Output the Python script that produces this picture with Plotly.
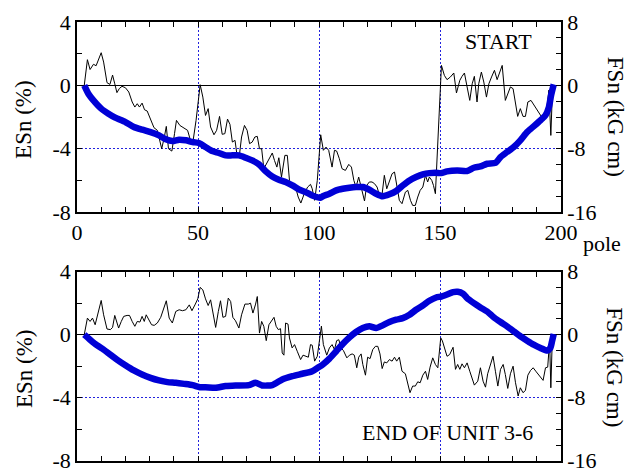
import plotly.graph_objects as go

# ---------------- data ----------------
# START panel: ESn (%) thin black line
start_esn_pole = [3, 4.3, 5.4, 6.8, 7.9, 10, 11, 12.4, 13.6, 14.7,
                  15.6, 16.5, 17.5, 18.6, 20, 21.4, 22.8, 23.9, 24.9, 25.8,
                  26.9, 27.9, 29, 30.4, 31.8, 33.2, 35, 36.1, 36.9, 37.8,
                  39.2, 40.3, 41.1, 42.5, 43.9, 45.7, 47.1, 48, 49.2, 50.9,
                  52, 53.1, 54.2, 55.2, 56.6, 57.7, 58.9, 60, 61.1, 62.2,
                  63.2, 64.2, 65.3, 66.2, 67.2, 68, 69.2, 70.3, 71.3, 72.4,
                  73.5, 74.5, 75.4, 76.3, 77.2, 78.2, 79.6, 80.7, 81.6, 82.6,
                  83.4, 84.5, 85.9, 86.9, 87.8, 88.9, 90, 91.4, 92.5, 93.9,
                  95.3, 96.5, 97.2, 98.2, 99.3, 100.7, 101.8, 102.9, 104, 105.4,
                  106.4, 107.3, 108.4, 109.5, 110.9, 112.3, 113.4, 114.4, 115.3, 116.4,
                  117.4, 118.8, 119.7, 120.8, 121.9, 122.9, 124, 125, 126.1, 127,
                  128, 129.1, 130.2, 131.2, 132.3, 133.2, 134.3, 135.7, 136.7, 137.8,
                  138.7, 139.8, 140.8, 141.8, 142.9, 144, 144.9, 145.6, 146.6, 147.3,
                  148.1, 150.6, 151.8, 152.9, 154.3, 155.7, 156.8, 158.2, 159.1, 160.1,
                  161.2, 162.3, 163.3, 164.2, 165.3, 166, 167.1, 168.1, 169.2, 170.2,
                  171.3, 172.5, 173.6, 174.7, 175.7, 177, 178, 179.1, 180.2, 181.2,
                  182.1, 183.2, 184.3, 185.3, 186.3, 187.6, 188.7, 190.1, 191.8, 192.9,
                  194, 195, 195.8, 196.5]
start_esn = [0, 1.62, 1.0, 1.33, 1.24, 2.06, 1.47, 0.17, 0.06, 0.65,
             0.1, -0.46, -0.2, -0.06, -0.15, -0.42, -1.05, -1.37, -1.16, -1.37,
             -1.12, -1.54, -1.62, -2.1, -2.67, -2.84, -4.0, -3.26, -2.59, -4.0,
             -4.15, -3.05, -2.21, -2.53, -2.67, -2.84, -3.58, -3.47, -2.21, 0.04,
             -0.74, -1.9, -1.47, -2.63, -3.12, -2.84, -1.96, -3.09, -3.05, -2.13,
             -2.46, -3.58, -3.47, -4.5, -4.3, -3.26, -2.53, -2.84, -3.68, -3.58,
             -3.26, -3.22, -4.0, -4.0, -5.26, -4.95, -4.53, -4.27, -4.74, -5.16,
             -4.57, -5.79, -4.42, -4.42, -6.0, -6.21, -6.25, -7.05, -7.43, -6.84,
             -6.42, -6.25, -6.53, -7.26, -6.0, -3.12, -4.1, -3.9, -4.1, -5.16,
             -4.1, -4.15, -4.63, -5.26, -5.37, -4.99, -5.16, -6.0, -6.42, -5.79,
             -6.42, -7.3, -6.32, -6.1, -6.1, -6.2, -6.42, -6.95, -6.84, -5.68,
             -6.53, -6.0, -5.58, -5.47, -6.53, -7.26, -7.47, -6.74, -6.63, -7.26,
             -7.58, -7.58, -7.05, -6.63, -6.42, -5.68, -6.1, -5.79, -6.0, -6.32,
             -6.84, 1.26, 0.63, 0.36, 0.53, 0.78, -0.48, 0.32, 0.57, 0.78,
             -0.1, -0.95, 0.1, 0.57, -1.05, 0.1, 0.84, 0.21, -0.74, 0.1,
             0.53, 0.95, 0.36, 0.84, 1.26, -0.95, -0.53, -0.1, -0.21, -1.05,
             -1.96, -1.47, -1.96, -1.96, -1.05, -0.95, -1.2, -1.58, -1.96, -2.21,
             -1.62, -0.3, -3.16, -0.2]

# START panel: FSn (kG cm) thick blue line
start_fsn_pole = [3, 4.7, 6.8, 10, 13, 15.8, 20, 23.5, 26.9, 30.4,
                  33.9, 36.7, 39.4, 42.2, 45, 47.8, 50.4, 53.1, 55.9, 58.6,
                  61.4, 64.2, 66.9, 69.7, 72.4, 75.2, 77.9, 80.7, 83.4, 86.2,
                  89, 91.7, 94.5, 97.2, 100.6, 101.6, 104.3, 107.1, 109.8, 112.6,
                  115.3, 118.1, 120.8, 123.6, 126.3, 129.1, 131.9, 134.6, 137.4, 140.1,
                  142.9, 145.6, 148.4, 150.5, 152.9, 157.1, 161.2, 164, 166.7, 169.5,
                  172.9, 175, 177.7, 180.5, 183.2, 186, 188.7, 191.5, 193.6, 195,
                  195.9, 197]
start_fsn = [0, -1.06, -1.9, -2.94, -3.58, -4.08, -4.64, -5.26, -5.6, -5.9,
             -6.32, -6.82, -7.04, -6.86, -6.94, -7.16, -7.28, -7.78, -8.3, -8.54,
             -8.84, -8.84, -8.84, -9.14, -9.48, -9.98, -10.82, -11.5, -11.92, -12.2,
             -12.64, -13.14, -13.48, -13.9, -14.18, -14.0, -13.68, -13.26, -13.06, -12.92,
             -12.84, -12.84, -13.18, -13.68, -14.0, -13.76, -13.34, -12.64, -12.0, -11.58,
             -11.24, -11.08, -11.04, -11.08, -10.86, -10.74, -10.82, -10.4, -10.24, -9.9,
             -9.8, -9.06, -8.42, -7.78, -6.94, -5.9, -5.18, -4.42, -3.78, -2.74,
             -1.26, 0.12]

# END OF UNIT 3-6 panel: ESn (%) thin black line
end_esn_pole = [3, 4.3, 5.4, 6.4, 7.5, 8.9, 10, 11, 12.4, 13.8,
                14.7, 15.6, 16.5, 17.2, 18.3, 19.3, 20.7, 21.7, 22.8, 23.9,
                24.9, 26, 26.9, 27.8, 28.6, 29.7, 30.8, 31.9, 33.2, 34.6,
                35.9, 36.9, 38.1, 39.4, 40.8, 42.2, 43.6, 45, 46.4, 47.5,
                48.9, 49.9, 50.9, 52, 53.1, 54.2, 55.2, 56.2, 57.3, 58.4,
                59.3, 60.3, 61.4, 62.5, 63.5, 64.4, 65.5, 66.9, 68, 69.4,
                70.8, 71.7, 72.7, 73.8, 74.5, 75.4, 76.3, 77.2, 78.2, 79.3,
                80.4, 81.4, 82.3, 83.2, 84.1, 84.8, 85.5, 86.2, 87.2, 87.8,
                88.9, 89.9, 91, 92.4, 93.4, 94.5, 95.6, 96.5, 97.2, 98.2,
                99.3, 101.0, 101.8, 103.2, 104.3, 105.4, 106.4, 107.3, 108.2, 109.1,
                110.1, 111.5, 112.6, 113.7, 114.6, 115.6, 116.4, 117.4, 118.1, 119.2,
                120.1, 121.1, 122.2, 123.3, 124.3, 125.2, 126.1, 127, 128, 129.1,
                130.2, 131.2, 132.1, 133.2, 134.3, 135.7, 136.7, 137.6, 138.7, 139.8,
                140.8, 141.8, 142.9, 144, 144.9, 145.9, 147, 148.1, 149.1, 150.3,
                151.0, 151.8, 152.9, 154, 155.4, 156.4, 157.3, 158.2, 159.1, 160.1,
                161.2, 162.3, 163.3, 164.2, 165.6, 166.7, 167.8, 168.8, 169.7, 170.8,
                171.9, 172.9, 173.9, 175, 176.1, 177, 178, 179.1, 180.2, 181.2,
                182.3, 183.2, 184.3, 185.3, 186.3, 187.4, 188.5, 189.8, 191.2, 192.6,
                193.6, 194.5, 195.3, 195.8, 196.4]
end_esn = [0, 1.05, 0.84, 1.05, 0.63, 1.47, 2.17, 1.26, 0.36, 0.32,
           0.46, 1.22, 0.84, 0.42, 0.84, 1.16, 1.22, 1.22, 0.84, 0.53,
           0.84, 0.8, 1.16, 0.84, 1.26, 0.95, 0.63, 0.59, 0.74, 1.1,
           1.68, 2.15, 1.05, 0.74, 1.47, 1.58, 1.52, 1.58, 1.89, 1.52,
           1.94, 2.27, 3.0, 2.84, 2.27, 1.85, 2.21, 1.47, 0.46, 1.47,
           2.15, 1.1, 1.16, 2.32, 2.1, 1.1, 0.88, 0.42, 1.26, 1.94,
           1.94, 2.0, 1.37, 1.94, 2.42, 0.1, 0.84, 0.53, -0.38, 0.63,
           0.84, 1.1, 0.53, 0.32, 0.38, -1.16, -1.3, 0.74, 0.67, -0.21,
           -0.84, -0.63, -1.05, -1.58, -1.3, -1.37, -1.43, -0.63, -0.67, -1.68,
           -1.37, 0.54, -0.63, -1.3, -0.84, -0.63, -0.95, -0.38, -0.32, -0.84,
           -1.01, -1.47, -1.3, -1.22, -1.3, -2.1, -1.43, -1.22, -1.89, -2.57,
           -1.43, -1.52, -0.95, -0.74, -0.74, -1.22, -2.15, -1.73, -1.79, -1.58,
           -1.68, -1.43, -1.68, -1.43, -2.32, -2.48, -3.12, -3.68, -3.26, -3.26,
           -2.99, -3.05, -2.57, -2.32, -2.84, -2.06, -1.47, -1.89, -2.1, -0.2,
           -0.4, -0.84, -1.37, -1.26, -0.8, -2.2, -1.89, -2.2, -1.85, -2.1,
           -1.79, -2.32, -2.74, -3.2, -2.95, -2.1, -2.95, -3.33, -2.48, -1.89,
           -1.37, -2.32, -3.26, -2.2, -1.89, -2.53, -3.41, -2.48, -2.0, -3.05,
           -3.89, -3.37, -3.68, -3.54, -2.57, -2.27, -2.1, -2.36, -2.63, -2.9,
           -2.1, -2.06, -0.4, -3.37, -0.3]

# END OF UNIT 3-6 panel: FSn (kG cm) thick blue line
end_fsn_pole = [3, 5.4, 8.2, 11, 13.75, 16.5, 20, 23.5, 26.9, 30.4,
                33.9, 37.4, 40.8, 44.3, 47.8, 50.8, 53.1, 57.3, 61.4, 65.5,
                71, 73.8, 76.5, 80.7, 84.8, 89, 93.1, 97.2, 99.5, 101.6,
                104.3, 107.1, 109.8, 112.6, 115.3, 118.1, 120.8, 123.6, 126.3, 129.1,
                131.9, 134.6, 137.4, 140.1, 142.9, 145.6, 148.4, 150.5, 152.9, 155.4,
                157.3, 159.5, 161.2, 164, 166.7, 169.5, 172.2, 175, 177.7, 180.5,
                183.2, 186, 188.7, 191.5, 194.3, 195.6, 196.3, 197]
end_fsn = [0, -0.64, -1.34, -1.9, -2.52, -3.16, -3.88, -4.54, -5.06, -5.48,
           -5.8, -6.02, -6.1, -6.24, -6.4, -6.66, -6.66, -6.74, -6.52, -6.44,
           -6.4, -6.1, -6.44, -6.4, -5.68, -5.26, -4.96, -4.64, -4.2, -3.78,
           -3.04, -2.1, -1.18, -0.34, 0.34, 0.84, 1.06, 0.84, 1.18, 1.6,
           1.9, 2.1, 2.52, 3.16, 3.7, 4.3, 4.72, 4.84, 5.1, 5.4,
           5.44, 5.2, 4.64, 4.0, 3.46, 2.94, 2.2, 1.6, 1.06, 0.42,
           -0.2, -0.76, -1.26, -1.68, -2.02, -1.68, -0.84, 0.08]

x_tickvals = [0, 50, 100, 150, 200]
x_ticktext = ["0", "50", "100", "150", "200"]
esn_tickvals = [-8, -4, 0, 4]
esn_ticktext = ["-8", "-4", "0", "4"]
fsn_tickvals = [-16, -8, 0, 8]
fsn_ticktext = ["-16", "-8", "0", "8"]

# ---------------- figure ----------------
FONT = "Liberation Serif, Times New Roman, serif"
BLUE = "#0000d6"
GRID = "#2222dd"

fig = go.Figure()
fig.add_trace(go.Scatter(x=start_esn_pole, y=start_esn, mode="lines",
                         line=dict(color="black", width=1), xaxis="x", yaxis="y"))
fig.add_trace(go.Scatter(x=start_fsn_pole, y=start_fsn, mode="lines",
                         line=dict(color=BLUE, width=6.5, shape="spline", smoothing=0.6),
                         xaxis="x", yaxis="y2"))
fig.add_trace(go.Scatter(x=end_esn_pole, y=end_esn, mode="lines",
                         line=dict(color="black", width=1), xaxis="x2", yaxis="y3"))
fig.add_trace(go.Scatter(x=end_fsn_pole, y=end_fsn, mode="lines",
                         line=dict(color=BLUE, width=6.5, shape="spline", smoothing=0.6),
                         xaxis="x2", yaxis="y4"))
# empty helpers so the top-side tick axes get drawn
fig.add_trace(go.Scatter(x=[], y=[], xaxis="x3", yaxis="y", hoverinfo="skip"))
fig.add_trace(go.Scatter(x=[], y=[], xaxis="x4", yaxis="y3", hoverinfo="skip"))

tickfont = dict(family=FONT, size=22, color="black")
GRIDDASH = "2px,2px"

def xaxis_cfg(show_labels, anchor):
    return dict(range=[0, 200], anchor=anchor, tickvals=x_tickvals, ticktext=x_ticktext,
                showticklabels=show_labels, ticks="inside", ticklen=5, tickcolor="black",
                minor=dict(dtick=10, tick0=0, ticks="inside", ticklen=5, tickcolor="black"),
                showgrid=True, gridcolor=GRID, griddash=GRIDDASH, gridwidth=1.3,
                showline=True, linecolor="black", linewidth=1.5, mirror=True,
                zeroline=False, tickfont=tickfont, ticklabelstandoff=0)

def xtop_cfg(overlay, anchor):
    return dict(range=[0, 200], overlaying=overlay, anchor=anchor, side="top",
                tickvals=x_tickvals, showticklabels=False,
                ticks="inside", ticklen=5, tickcolor="black",
                minor=dict(dtick=10, tick0=0, ticks="inside", ticklen=5, tickcolor="black"),
                showgrid=False, zeroline=False, showline=False)

def left_cfg(domain, anchor):
    return dict(range=[-8, 4], domain=domain, anchor=anchor,
                tickvals=esn_tickvals, ticktext=esn_ticktext,
                ticks="inside", ticklen=5, tickcolor="black",
                minor=dict(dtick=2, tick0=0, ticks="inside", ticklen=5, tickcolor="black"),
                showgrid=True, gridcolor=GRID, griddash=GRIDDASH, gridwidth=1.3,
                showline=True, linecolor="black", linewidth=1.5,
                zeroline=True, zerolinecolor="black", zerolinewidth=1,
                tickfont=tickfont)

def right_cfg(overlay, anchor):
    return dict(range=[-16, 8], overlaying=overlay, side="right", anchor=anchor,
                tickvals=fsn_tickvals, ticktext=fsn_ticktext,
                ticks="inside", ticklen=5, tickcolor="black",
                minor=dict(dtick=2, tick0=0, ticks="inside", ticklen=5, tickcolor="black"),
                showgrid=False, zeroline=False,
                showline=True, linecolor="black", linewidth=1.5,
                tickfont=tickfont)

# page body adds an 8px offset; margins compensate so the plot sits where the reference has it
fig.update_layout(
    width=634, height=470,
    margin=dict(l=69, r=81, t=14, b=15, autoexpand=False),
    paper_bgcolor="white", plot_bgcolor="white",
    showlegend=False,
    xaxis=xaxis_cfg(True, "y"),
    xaxis2=xaxis_cfg(False, "y3"),
    xaxis3=xtop_cfg("x", "y"),
    xaxis4=xtop_cfg("x2", "y3"),
    yaxis=left_cfg([0.569, 1.0], "x"),
    yaxis2=right_cfg("y", "x"),
    yaxis3=left_cfg([0.005, 0.434], "x2"),
    yaxis4=right_cfg("y3", "x2"),
    font=dict(family=FONT, size=22, color="black"),
)

ann_font = dict(family=FONT, size=22, color="black")
title_font = dict(family=FONT, size=23, color="black")
annotations = [
    dict(text="START", x=174, y=2.75, xref="x", yref="y", showarrow=False,
         xanchor="center", yanchor="middle", font=ann_font),
    dict(text="END OF UNIT 3-6", x=153.3, y=-6.2, xref="x2", yref="y3",
         showarrow=False, xanchor="center", yanchor="middle", font=ann_font),
    dict(text="pole", x=1.085, y=0.497, xref="paper", yref="paper", showarrow=False,
         xanchor="center", yanchor="middle", font=ann_font),
    dict(text="ESn (%)", x=-0.1095, y=0.778, xref="paper", yref="paper", showarrow=False,
         textangle=-90, xanchor="center", yanchor="middle", font=title_font),
    dict(text="ESn (%)", x=-0.1095, y=0.213, xref="paper", yref="paper", showarrow=False,
         textangle=-90, xanchor="center", yanchor="middle", font=title_font),
    dict(text="FSn (kG cm)", x=1.1116, y=0.785, xref="paper", yref="paper", showarrow=False,
         textangle=90, xanchor="center", yanchor="middle", font=title_font),
    dict(text="FSn (kG cm)", x=1.1116, y=0.217, xref="paper", yref="paper", showarrow=False,
         textangle=90, xanchor="center", yanchor="middle", font=title_font),
]
fig.update_layout(annotations=annotations)

fig.write_html("out.html")
